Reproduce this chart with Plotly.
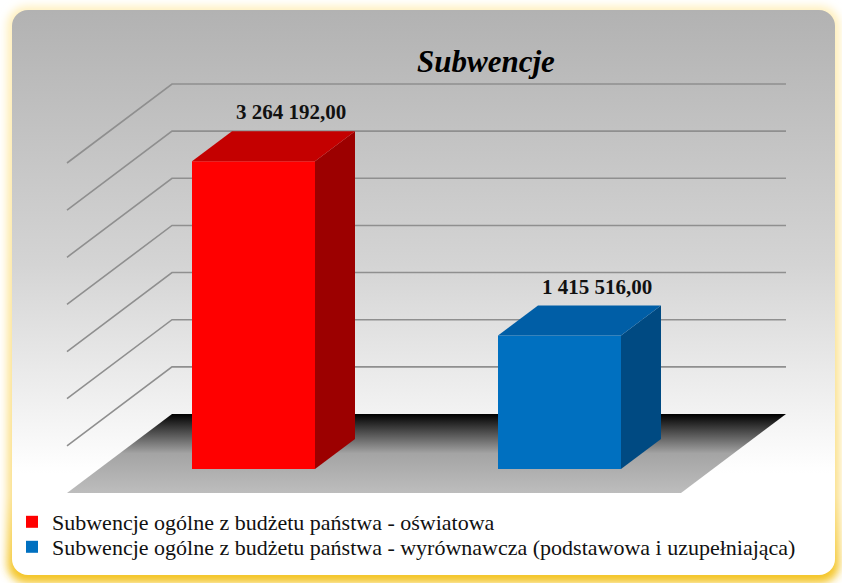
import base64
import plotly.graph_objects as go

# dane
kategorie = [
    "Subwencje ogólne z budżetu państwa - oświatowa",
    "Subwencje ogólne z budżetu państwa - wyrównawcza (podstawowa i uzupełniająca)",
]
pozycje = [0, 1]
wartosci = [3264192.00, 1415516.00]
kolory_przod = ["#ff0000", "#0070c0"]
kolory_gora = ["#c40000", "#005ea6"]
kolory_bok = ["#9c0000", "#004a82"]
tytul = "Subwencje"

Y_MAX = 3500000
KROK = 500000

FONT = "Liberation Serif"

# geometria (piksele)
W, H = 842, 583
SX = 306.0          # px na jedna kategorie
X0 = 253.5          # px srodka kategorii 0
SY = 330.0 / Y_MAX  # px na jednostke wartosci
Y0 = 414.0          # px poziomu zera na scianie

def dx(p):
    return p / SX

def dy(p):
    return p / SY

SCIANA_L, SCIANA_P = dx(172 - X0), dx(786 - X0)
GLEB_X, GLEB_Y = dx(-105), dy(-79)
SZER = dx(123)
BAZA = dy(-55)
TYL_X, TYL_Y = dx(40), dy(30)


def fmt(v):
    return f"{v:,.2f}".replace(",", " ").replace(".", ",")


# tlo - zaokraglony panel z gradientem i zolta poswiata
svg = f"""<svg xmlns='http://www.w3.org/2000/svg' width='{W}' height='{H}' viewBox='0 0 {W} {H}'>
<defs>
<linearGradient id='g' x1='0' y1='0' x2='0' y2='1'>
<stop offset='0' stop-color='#b2b2b2'/><stop offset='0.45' stop-color='#d4d4d4'/>
<stop offset='0.82' stop-color='#ffffff'/><stop offset='1' stop-color='#ffffff'/>
</linearGradient>
<linearGradient id='y' x1='0' y1='0' x2='0' y2='1'>
<stop offset='0' stop-color='#fff0bf'/><stop offset='0.85' stop-color='#fbe08a'/>
<stop offset='1' stop-color='#f3c21c'/>
</linearGradient>
<filter id='b' x='-5%' y='-5%' width='110%' height='110%'><feGaussianBlur stdDeviation='4'/></filter>
</defs>
<rect width='{W}' height='{H}' fill='#ffffff'/>
<rect x='7' y='6' width='833' height='577' rx='20' fill='url(#y)' filter='url(#b)'/>
<rect x='12' y='10' width='823' height='565' rx='16' fill='url(#g)'/>
</svg>"""
tlo = "data:image/svg+xml;base64," + base64.b64encode(svg.encode()).decode()

fig = go.Figure()

# podloga
fig.add_trace(go.Scatter(
    x=[SCIANA_L, SCIANA_P, SCIANA_P + GLEB_X, SCIANA_L + GLEB_X, SCIANA_L],
    y=[0, 0, GLEB_Y, GLEB_Y, 0],
    mode="lines", line=dict(width=0), fill="toself",
    fillgradient=dict(type="vertical", colorscale=[
        [0, "#bdbdbd"], [0.5, "#a4a4a4"], [0.78, "#4a4a4a"], [1, "#000000"]]),
    showlegend=False, hoverinfo="skip",
))

# linie siatki
gx, gy = [], []
for v in range(KROK, Y_MAX + 1, KROK):
    gx += [SCIANA_L + GLEB_X, SCIANA_L, SCIANA_P, None]
    gy += [v + GLEB_Y, v, v, None]
fig.add_trace(go.Scatter(x=gx, y=gy, mode="lines",
                         line=dict(color="#8f8f8f", width=1.6),
                         showlegend=False, hoverinfo="skip"))

# slupki 3D
legendy = ["legend", "legend2"]
for i in range(len(wartosci)):
    x, v = pozycje[i], wartosci[i]
    l, p = x - SZER / 2, x + SZER / 2
    gora = BAZA + v
    fig.add_trace(go.Scatter(
        x=[p, p + TYL_X, p + TYL_X, p, p], y=[BAZA, BAZA + TYL_Y, gora + TYL_Y, gora, BAZA],
        mode="lines", line=dict(width=0), fill="toself", fillcolor=kolory_bok[i],
        showlegend=False, hoverinfo="skip", xaxis="x2", yaxis="y2"))
    fig.add_trace(go.Scatter(
        x=[l, p, p + TYL_X, l + TYL_X, l], y=[gora, gora, gora + TYL_Y, gora + TYL_Y, gora],
        mode="lines", line=dict(width=0), fill="toself", fillcolor=kolory_gora[i],
        showlegend=False, hoverinfo="skip", xaxis="x2", yaxis="y2"))
    fig.add_trace(go.Bar(
        x=[x], y=[v], base=[BAZA], width=SZER, name=kategorie[i],
        marker=dict(color=kolory_przod[i], line=dict(width=0)),
        legend=legendy[i], xaxis="x2", yaxis="y2"))
    fig.add_annotation(
        x=x + TYL_X, y=gora + TYL_Y, xref="x2", yref="y2",
        text="<b>" + fmt(v) + "</b>", showarrow=False, yanchor="bottom",
        xshift=-3, yshift=5,
        font=dict(family=FONT, size=21, color="#111111"))

zakres_x = [dx(0 - X0), dx(W - X0)]
zakres_y = [dy(-(H - Y0)), dy(Y0)]
osie = dict(visible=False, showgrid=False, zeroline=False, fixedrange=True)
leg = dict(x=12 / W, xanchor="left", yanchor="middle", bgcolor="rgba(0,0,0,0)",
           borderwidth=0, font=dict(family=FONT, size=22, color="#111111"))

fig.update_layout(
    width=W, height=H,
    margin=dict(l=0, r=0, t=0, b=0),
    font=dict(family=FONT),
    paper_bgcolor="#ffffff", plot_bgcolor="rgba(0,0,0,0)",
    barmode="overlay",
    xaxis=dict(range=zakres_x, domain=[0, 1], **osie),
    yaxis=dict(range=zakres_y, domain=[0, 1], **osie),
    xaxis2=dict(range=zakres_x, overlaying="x", **osie),
    yaxis2=dict(range=zakres_y, overlaying="y", **osie),
    images=[dict(source=tlo, xref="paper", yref="paper", x=0, y=1, sizex=1, sizey=1,
                 sizing="stretch", xanchor="left", yanchor="top", layer="below")],
    title=dict(text="<b><i>" + tytul + "</i></b>", x=486 / W, y=1 - 61 / H,
               xanchor="center", yanchor="middle",
               font=dict(family=FONT, size=31, color="#000000")),
    legend=dict(y=1 - 522 / H, **leg),
    legend2=dict(y=1 - 547 / H, **leg),
    showlegend=True,
)

fig.write_html("out.html", config={"displayModeBar": False},
               post_script="document.body.style.margin='0';")
